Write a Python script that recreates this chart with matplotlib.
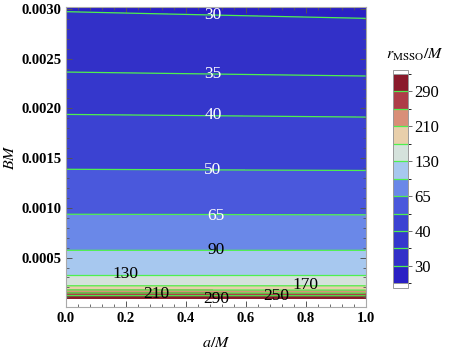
import numpy as np
import matplotlib
matplotlib.use('Agg')
from matplotlib import pyplot as plt
from matplotlib.colors import ListedColormap, BoundaryNorm
from matplotlib.ticker import MultipleLocator, FixedLocator, FormatStrFormatter
from matplotlib.patches import Rectangle

plt.rcParams['font.family'] = ['Liberation Serif', 'DejaVu Serif']
plt.rcParams['mathtext.fontset'] = 'stix'

# contour levels of r_MSSO/M
levels = [30, 35, 40, 50, 65, 90, 130, 170, 210, 250, 290]
# B*M where each level crosses a/M = 0 and a/M = 1
b_at_a0 = [0.002973, 0.002366, 0.00194, 0.001388, 0.000936, 0.000573,
           0.000326, 0.000216, 0.000175, 0.000145, 0.000117]
b_at_a1 = [0.002906, 0.002326, 0.001913, 0.001376, 0.00093, 0.000573,
           0.000326, 0.000216, 0.000173, 0.000143, 0.000116]
# values at the edges of the computed region
b_top, r_top = 0.00302, [29.7, 29.2]
b_low, r_low = 0.00009, [343, 343]
yticks = [0.0005, 0.0010, 0.0015, 0.0020, 0.0025, 0.0030]
cbar_ticks = [30, 40, 65, 130, 210, 290]

band_colors = ['#2a20c4', '#3230c8', '#3537cc', '#3b42d2', '#4a58dc',
               '#6a88e8', '#a7c8ef', '#d5e2dc', '#e8cfab', '#d98f78',
               '#ae3d48', '#8a1a2b']
bounds = [20] + levels + [400]
line_color = '#4ef04e'

a_vals = np.array([0.0, 1.0])
b_grid = np.linspace(b_low, b_top, 600)
Z = np.zeros((len(b_grid), 2))
for j, (bl, rt) in enumerate([(b_at_a0, r_top[0]), (b_at_a1, r_top[1])]):
    xp = np.log([b_low] + bl[::-1] + [b_top])
    fp = np.log([r_low[j]] + levels[::-1] + [rt])
    Z[:, j] = np.exp(np.interp(np.log(b_grid), xp, fp))

fig = plt.figure(figsize=(4.49, 3.52), dpi=100)
ax = fig.add_axes([66/449, 1-307.3/352, 299.7/449, 300/352])

cmap = ListedColormap(band_colors)
norm = BoundaryNorm(bounds, cmap.N)
cf = ax.contourf(a_vals, b_grid, Z, levels=bounds, cmap=cmap, norm=norm)
ax.contour(a_vals, b_grid, Z, levels=levels, colors=line_color, linewidths=0.9)

# contour labels
lab_pos = {30: (0.49, 0.002935), 35: (0.49, 0.002345), 40: (0.49, 0.00193),
           50: (0.49, 0.00138), 65: (0.50, 0.00092), 90: (0.50, 0.000573),
           130: (0.20, 0.000335), 170: (0.80, 0.000222), 210: (0.30, 0.000135),
           250: (0.70, 0.000117), 290: (0.50, 0.00008)}
for lev, (xa, yb) in lab_pos.items():
    col = 'white' if lev <= 65 else 'black'
    ax.text(xa, yb, str(lev), color=col, fontsize=12.5, ha='center', va='center')

ax.set_xlim(0, 1)
ax.set_ylim(0, 0.003017)
ax.xaxis.set_major_locator(MultipleLocator(0.2))
ax.xaxis.set_minor_locator(MultipleLocator(0.04))
ax.yaxis.set_major_locator(FixedLocator(yticks))
ax.yaxis.set_minor_locator(MultipleLocator(0.0001))
ax.xaxis.set_major_formatter(FormatStrFormatter('%.1f'))
ax.yaxis.set_major_formatter(FormatStrFormatter('%.4f'))
ax.tick_params(which='both', direction='in', top=True, right=True,
               color='#555555', labelsize=10.5)
ax.tick_params(which='major', length=4, width=0.7)
ax.tick_params(which='minor', length=2.2, width=0.6)
for lab in ax.get_xticklabels() + ax.get_yticklabels():
    lab.set_fontweight('bold')
for sp in ax.spines.values():
    sp.set_color('#aaaaaa')
    sp.set_linewidth(0.8)

ax.set_xlabel('$a/M$', fontsize=11.5, labelpad=7)
ax.set_ylabel('$BM$', fontsize=11.5, labelpad=2)

# colorbar
cax = fig.add_axes([393.3/449, 1-283.3/352, 15/449, 209.3/352])
cbar = fig.colorbar(cf, cax=cax, spacing='uniform', ticks=cbar_ticks)
cbar.add_lines(levels, [line_color]*len(levels), [0.9]*len(levels))
cbar.outline.set_edgecolor('#999999')
cbar.outline.set_linewidth(0.7)
cax.tick_params(length=3, width=0.6, color='#555555', labelsize=12, pad=1.5)
for y0 in (283.3, 69.8):
    fig.add_artist(Rectangle((393.3/449, 1-(y0+4.3)/352), 15/449, 4.3/352,
                             transform=fig.transFigure, facecolor='white',
                             edgecolor='#999999', linewidth=0.7))
fig.text(415/449, 1-55/352, r'$r_{\rm MSSO}/M$', fontsize=11.5, ha='center', va='center')

fig.savefig('out.png', dpi=100)
